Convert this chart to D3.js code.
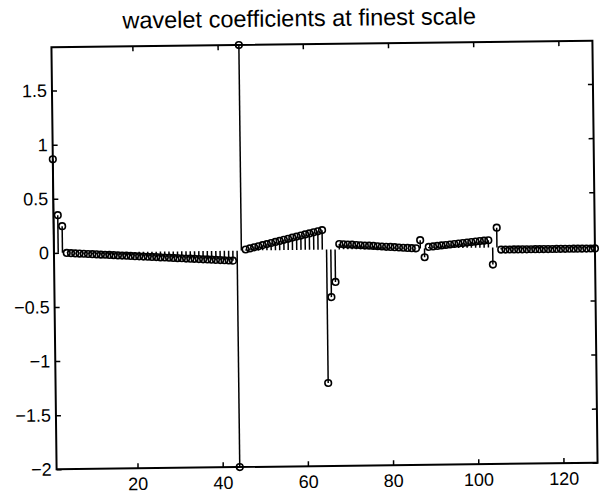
<!DOCTYPE html>
<html>
<head>
<meta charset="utf-8">
<script src="https://cdn.jsdelivr.net/npm/d3@7"></script>
<style>
  body{margin:0;background:#fff;}
  .canvas{width:600px;height:498px;}
  text{font-family:'Liberation Sans',Arial,Helvetica,sans-serif;fill:#000;}
</style>
</head>
<body>
<div class="canvas" id="canvas"></div>
<script>
//data, index 1..128
var index = d3.range(1,129);
var coefStart = [0.865,0.348,0.246];
var coefSlopeDown = [-0.002,-0.004,-0.007,-0.009,-0.011,-0.014,-0.016,-0.018,-0.021,-0.023,
    -0.025,-0.027,-0.030,-0.032,-0.034,-0.037,-0.039,-0.041,-0.044,-0.046,
    -0.048,-0.050,-0.053,-0.055,-0.057,-0.060,-0.062,-0.064,-0.067,-0.069,
    -0.071,-0.073,-0.076,-0.078,-0.080,-0.083,-0.085,-0.087,-0.090,-0.092];
var coefJump = [-2.0,1.9];
var coefSlopeUp = [0.010,0.019,0.029,0.038,0.048,0.057,0.067,0.076,0.085,0.095,
    0.104,0.114,0.123,0.132,0.142,0.151,0.161,0.170,0.180];
var coefDip = [-1.233,-0.44,-0.30];
var coefFlat1 = [0.050,0.047,0.044,0.042,0.039,0.036,0.033,0.031,0.028,0.025,
    0.022,0.019,0.017,0.014,0.011,0.008,0.006,0.003,0.001];
var coefPair1 = [0.076,-0.082];
var coefFlat2 = [0.013,0.017,0.021,0.025,0.029,0.033,0.037,0.041,0.045,0.049,
    0.053,0.057,0.061,0.064,0.068];
var coefPair2 = [-0.157,0.183];
var coefTail = [-0.02,-0.02,-0.02,-0.02,-0.02,-0.02,-0.02,-0.02,-0.02,-0.02,
    -0.02,-0.02,-0.02,-0.02,-0.02,-0.02,-0.02,-0.02,-0.02,-0.02,
    -0.02,-0.02,-0.02];
var xTicks = [20,40,60,80,100,120];
var yTicks = [-2,-1.5,-1,-0.5,0,0.5,1,1.5];
var title = 'wavelet coefficients at finest scale';

var coefs = [].concat(coefStart,coefSlopeDown,coefJump,coefSlopeUp,coefDip,
    coefFlat1,coefPair1,coefFlat2,coefPair2,coefTail);
var rows = index.map(function(d,i){ return {i:d, v:coefs[i]}; });

//margin convention
var m = {t:44,r:5,b:32,l:54};
var outerWidth = 600, outerHeight = 498;
var w = outerWidth - m.l - m.r,
    h = outerHeight - m.t - m.b;

var svg = d3.select('.canvas')
    .append('svg')
    .attr('width',outerWidth)
    .attr('height',outerHeight);

//the scan is slightly tilted
var page = svg.append('g')
    .attr('transform','rotate(-0.7,325,255)');

var plot = page.append('g')
    .attr('transform','translate(' + m.l + ',' + m.t + ')');

var scaleX = d3.scaleLinear().domain([1,128]).range([0,w]);
var scaleY = d3.scaleLinear().domain([-2,1.9]).range([h,0]);

function fmt(d){ return d < 0 ? '\u2212' + Math.abs(d) : String(d); }

//axes, ticks pointing inward
var axisB = d3.axisBottom(scaleX).tickValues(xTicks).tickSizeInner(-5).tickSizeOuter(0).tickPadding(9).tickFormat(fmt);
var axisT = d3.axisTop(scaleX).tickValues(xTicks).tickSizeInner(-5).tickSizeOuter(0).tickFormat('');
var axisL = d3.axisLeft(scaleY).tickValues(yTicks).tickSizeInner(-5).tickSizeOuter(0).tickPadding(5).tickFormat(fmt);
var axisR = d3.axisRight(scaleY).tickValues(yTicks).tickSizeInner(-5).tickSizeOuter(0).tickFormat('');

plot.append('g').attr('class','axis axis-x').attr('transform','translate(0,' + h + ')').call(axisB);
plot.append('g').attr('class','axis axis-top').call(axisT);
plot.append('g').attr('class','axis axis-y').call(axisL);
plot.append('g').attr('class','axis axis-right').attr('transform','translate(' + w + ',0)').call(axisR);

plot.selectAll('.axis .domain').remove();
plot.selectAll('.axis line').attr('stroke','#000').attr('stroke-width',1.5);
plot.selectAll('.axis text')
    .style('font-size','18px')
    .attr('fill','#000');

//stems
plot.selectAll('.stem')
    .data(rows)
    .enter()
    .append('line')
    .attr('class','stem')
    .attr('x1',function(d){ return scaleX(d.i); })
    .attr('x2',function(d){ return scaleX(d.i); })
    .attr('y1',scaleY(0))
    .attr('y2',function(d){ return scaleY(d.v); })
    .attr('stroke','#000')
    .attr('stroke-width',1.5);

plot.selectAll('.marker')
    .data(rows)
    .enter()
    .append('circle')
    .attr('class','marker')
    .attr('cx',function(d){ return scaleX(d.i); })
    .attr('cy',function(d){ return scaleY(d.v); })
    .attr('r',3.3)
    .attr('fill','none')
    .attr('stroke','#000')
    .attr('stroke-width',1.6);

//box
plot.append('rect')
    .attr('width',w)
    .attr('height',h)
    .attr('fill','none')
    .attr('stroke','#000')
    .attr('stroke-width',2);

page.append('text')
    .attr('x',302)
    .attr('y',26)
    .attr('text-anchor','middle')
    .style('font-size','23.5px')
    .text(title);
</script>
</body>
</html>
